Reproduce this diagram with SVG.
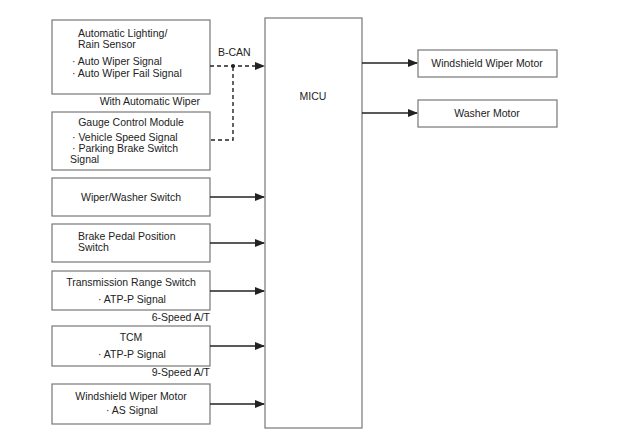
<svg xmlns="http://www.w3.org/2000/svg" width="637" height="441" viewBox="0 0 637 441">
<style>
rect{fill:#fff;stroke:#777;stroke-width:1.2}
text{font-family:"Liberation Sans",Arial,sans-serif;font-size:10.5px;fill:#222}
.c{text-anchor:middle}
.e{text-anchor:end}
.l{stroke:#222;stroke-width:1.4;fill:none}
.d{stroke-dasharray:4,3}
.h{fill:#222;stroke:none}
</style>
<defs><marker id="a" markerWidth="10" markerHeight="8" refX="9" refY="4" orient="auto" markerUnits="userSpaceOnUse"><path class="h" d="M0,0L10,4L0,8z"/></marker></defs>
<rect width="637" height="441" style="fill:#fff;stroke:none"/>
<g id="n1"><rect x="52" y="20" width="158" height="74"/><text x="78" y="37">Automatic Lighting/</text><text x="78" y="48">Rain Sensor</text><text x="72" y="65">· Auto Wiper Signal</text><text x="72" y="77">· Auto Wiper Fail Signal</text></g>
<text x="200" y="105" class="e">With Automatic Wiper</text>
<g id="n2"><rect x="52" y="112" width="158" height="58"/><text x="131" y="126" class="c">Gauge Control Module</text><text x="72" y="141">· Vehicle Speed Signal</text><text x="72" y="152">· Parking Brake Switch</text><text x="70" y="163">Signal</text></g>
<g id="n3"><rect x="52" y="178" width="158" height="38"/><text x="131" y="201" class="c">Wiper/Washer Switch</text></g>
<g id="n4"><rect x="52" y="224" width="158" height="38"/><text x="78" y="240">Brake Pedal Position</text><text x="78" y="251">Switch</text></g>
<g id="n5"><rect x="52" y="271" width="158" height="39"/><text x="131" y="286" class="c">Transmission Range Switch</text><text x="98" y="303">· ATP-P Signal</text></g>
<text x="210" y="321" class="e">6-Speed A/T</text>
<g id="n6"><rect x="52" y="326" width="158" height="40"/><text x="131" y="341" class="c">TCM</text><text x="98" y="358">· ATP-P Signal</text></g>
<text x="210" y="376" class="e">9-Speed A/T</text>
<g id="n7"><rect x="52" y="384" width="158" height="40"/><text x="131" y="400" class="c">Windshield Wiper Motor</text><text x="106" y="414">· AS Signal</text></g>
<g id="micu"><rect x="265" y="18" width="97" height="410"/><text x="313" y="100" class="c">MICU</text></g>
<g id="m1"><rect x="418" y="50" width="139" height="27"/><text x="487" y="67" class="c">Windshield Wiper Motor</text></g>
<g id="m2"><rect x="418" y="100" width="139" height="27"/><text x="487" y="117" class="c">Washer Motor</text></g>
<g id="connectors">
<line class="l d" x1="210" y1="66" x2="264" y2="66" marker-end="url(#a)"/>
<path class="l d" d="M211,140H233V66"/>
<circle class="h" cx="233" cy="66" r="2"/>
<text x="218" y="56">B-CAN</text>
<line class="l" x1="210" y1="197" x2="264" y2="197" marker-end="url(#a)"/>
<line class="l" x1="210" y1="243" x2="264" y2="243" marker-end="url(#a)"/>
<line class="l" x1="210" y1="291" x2="264" y2="291" marker-end="url(#a)"/>
<line class="l" x1="210" y1="346" x2="264" y2="346" marker-end="url(#a)"/>
<line class="l" x1="210" y1="404" x2="264" y2="404" marker-end="url(#a)"/>
<line class="l" x1="362" y1="63" x2="417" y2="63" marker-end="url(#a)"/>
<line class="l" x1="362" y1="113" x2="417" y2="113" marker-end="url(#a)"/>
</g>
</svg>
